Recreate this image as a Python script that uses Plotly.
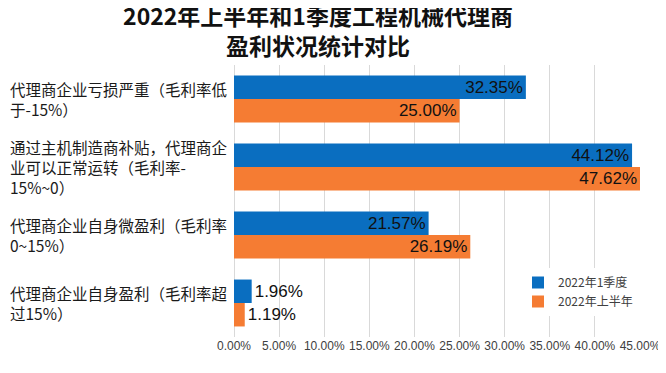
import plotly.graph_objects as go

# ---------------- data ----------------
categories = [
    "代理商企业亏损严重（毛利率低<br>于-15%）",
    "通过主机制造商补贴，代理商企<br>业可以正常运转（毛利率-<br>15%~0）",
    "代理商企业自身微盈利（毛利率<br>0~15%）",
    "代理商企业自身盈利（毛利率超<br>过15%）",
]
series_names = ["2022年1季度", "2022年上半年"]
q1_values = [0.3235, 0.4412, 0.2157, 0.0196]
h1_values = [0.2500, 0.4762, 0.2619, 0.0119]
x_ticks = [0.0, 0.05, 0.10, 0.15, 0.20, 0.25, 0.30, 0.35, 0.40, 0.45]
x_max = 0.45
title_text = "2022年上半年和1季度工程机械代理商<br>盈利状况统计对比"

# ---------------- styles ----------------
# the page body has an 8px margin, so the figure is laid out 8px smaller
OFF = 8
W, H = 666 - OFF, 373 - OFF
colors = ["#0A6EC0", "#F57C33"]
CJK = "Noto Sans CJK SC"
LAT = "Liberation Sans, Arial, sans-serif"
L, R, T, B = 234 - OFF, 26, 65 - OFF, 36
PW = W - L - R
PH = H - T - B

fig = go.Figure()
for name, vals, col in zip(series_names, [q1_values, h1_values], colors):
    fig.add_trace(go.Bar(
        name=name,
        y=categories,
        x=[min(v, x_max) for v in vals],          # Excel clips bars at axis max
        orientation="h",
        marker=dict(color=col, line=dict(width=0)),
        text=[f"{v:.2%}" for v in vals],
        textposition=["inside" if v > 0.05 else "outside" for v in vals],
        insidetextanchor="end",
        constraintext="none",
        textfont=dict(family=LAT, size=17, color="#111111"),
        insidetextfont=dict(family=LAT, size=17, color="#111111"),
        outsidetextfont=dict(family=LAT, size=17, color="#111111"),
        cliponaxis=False,
        legendgroup=name,
        hoverinfo="skip",
    ))

# category labels, left aligned
for c in categories:
    fig.add_annotation(
        text=c, xref="paper", yref="y", x=(8 - OFF - L) / PW, y=c,
        xanchor="left", yanchor="middle", align="left", showarrow=False,
        font=dict(family=CJK, size=15.5, color="#1A1A1A"),
    )

fig.update_layout(
    width=W, height=H,
    margin=dict(l=L, r=R, t=T, b=B, autoexpand=False),
    paper_bgcolor="white", plot_bgcolor="white",
    barmode="group", bargap=0.31, bargroupgap=0,
    title=dict(
        text=f"<b>{title_text}</b>",
        x=(318 - OFF) / W, xanchor="center", xref="container",
        y=1 - 17 / H, yanchor="top", yref="container",
        font=dict(family=CJK, size=23, color="#111111"),
        automargin=False,
    ),
    xaxis=dict(
        range=[0, x_max], tickvals=x_ticks, tickformat=".2%",
        showgrid=True, gridcolor="#D9D9D9", gridwidth=1,
        zeroline=True, zerolinecolor="#D9D9D9", zerolinewidth=1,
        showline=False, ticks="", automargin=False,
        tickfont=dict(family=LAT, size=12, color="#404040"),
        fixedrange=True,
    ),
    yaxis=dict(
        type="category", autorange="reversed", automargin=False,
        showticklabels=False, showgrid=False, zeroline=False, ticks="",
        fixedrange=True,
    ),
    legend=dict(
        x=(518 - OFF - L) / PW, y=(T + PH - (268 - OFF)) / PH,
        xanchor="left", yanchor="top",
        bgcolor="white", borderwidth=0,
        font=dict(family=CJK, size=12, color="#404040"),
        tracegroupgap=5, traceorder="normal",
    ),
    showlegend=True,
)

fig.write_html("out.html")
